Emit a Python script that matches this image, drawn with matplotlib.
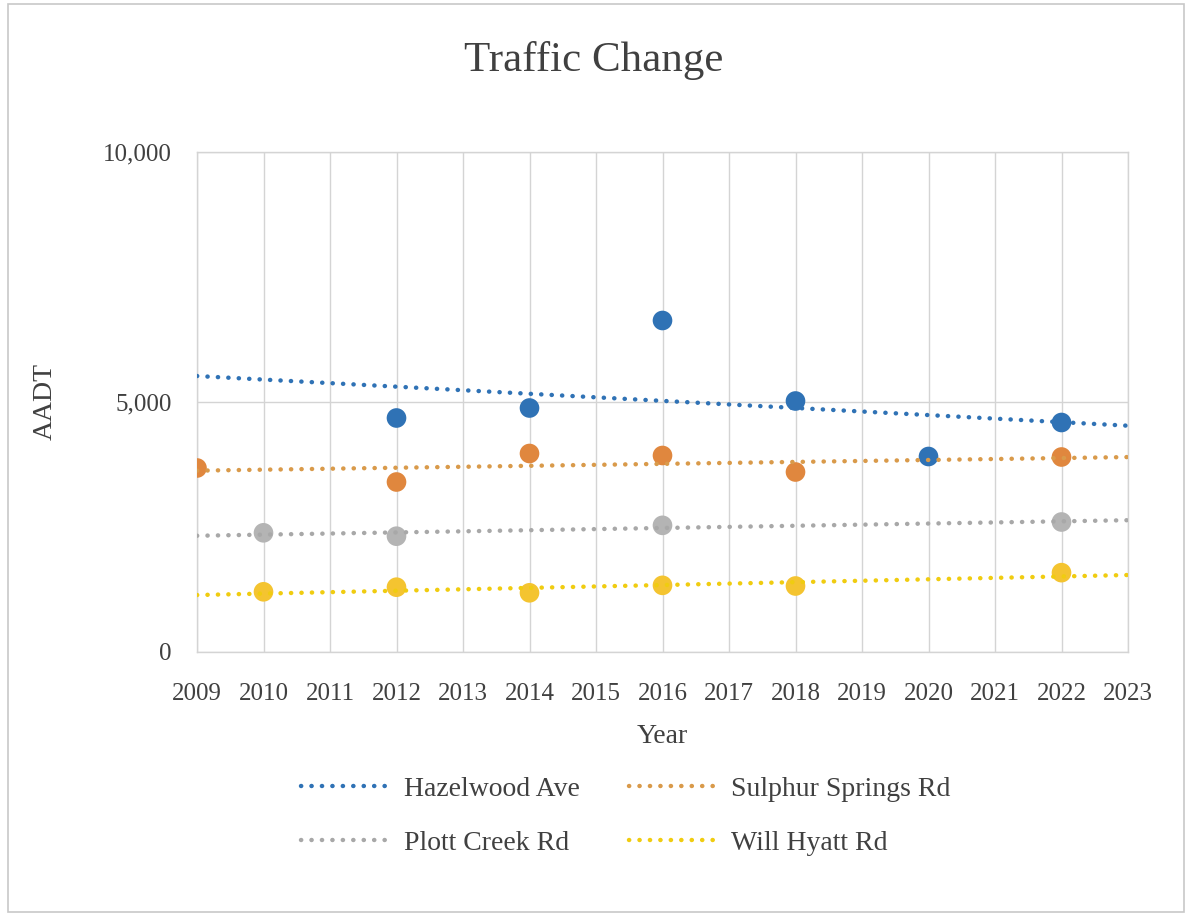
import numpy as np
import matplotlib
matplotlib.use("Agg")
import matplotlib.pyplot as plt
from matplotlib.patches import Rectangle

# Data
hazel_years = [2012, 2014, 2016, 2018, 2020, 2022]
hazel_aadt = [4680, 4880, 6630, 5020, 3910, 4590]

sulphur_years = [2009, 2012, 2014, 2016, 2018, 2022]
sulphur_aadt = [3680, 3400, 3970, 3930, 3600, 3900]

plott_years = [2010, 2012, 2016, 2022]
plott_aadt = [2384, 2316, 2533, 2600]

will_years = [2010, 2012, 2014, 2016, 2018, 2022]
will_aadt = [1204, 1296, 1184, 1333, 1320, 1587]

series_names = ["Hazelwood Ave", "Sulphur Springs Rd", "Plott Creek Rd", "Will Hyatt Rd"]
point_colors = ["#2f72b5", "#e0873e", "#b4b4b4", "#f4c430"]
trend_colors = ["#2f72b5", "#d99a4a", "#a8a8a8", "#f0cc10"]

x_ticks = list(range(2009, 2024))
y_ticks = [0, 5000, 10000]
y_tick_labels = ["0", "5,000", "10,000"]

plt.rcParams['font.family'] = ['Liberation Serif', 'DejaVu Serif']
text_color = "#404040"

fig = plt.figure(figsize=(11.88, 9.16), dpi=100)
ax = fig.add_axes([197/1188, 1-652/916, (1128-197)/1188, (652-152)/916])

data = [(hazel_years, hazel_aadt), (sulphur_years, sulphur_aadt),
        (plott_years, plott_aadt), (will_years, will_aadt)]

handles = []
xs_line = np.array([2009, 2023])
for (yrs, vals), name, pc, tc in zip(data, series_names, point_colors, trend_colors):
    ax.scatter(yrs, vals, s=200, color=pc, zorder=3, edgecolors='none')
    k, b = np.polyfit(yrs, vals, 1)
    ln, = ax.plot(xs_line, k*xs_line + b, color=tc, linewidth=3.2,
                  linestyle=(0, (0.05, 2.3)), dash_capstyle='round', zorder=4,
                  label=name)
    handles.append(ln)

ax.set_xlim(2009, 2023)
ax.set_ylim(0, 10000)
ax.set_xticks(x_ticks)
ax.set_xticklabels([str(x) for x in x_ticks])
ax.set_yticks(y_ticks)
ax.set_yticklabels(y_tick_labels)
ax.grid(True, color="#d4d4d4", linewidth=1.0, zorder=0)
ax.set_axisbelow(True)
for sp in ax.spines.values():
    sp.set_color("#d4d4d4")
    sp.set_linewidth(1.0)
ax.tick_params(axis='both', length=0, labelsize=18, colors=text_color)
ax.tick_params(axis='x', pad=22)
ax.tick_params(axis='y', pad=18)

ax.set_xlabel("Year", fontsize=20, color=text_color, labelpad=14)
ax.set_ylabel("AADT", fontsize=20, color=text_color, labelpad=33)

fig.text(0.5, 1-61/916, "Traffic Change", ha='center', va='center',
         fontsize=31, color=text_color)

# legend order: row 1 Hazelwood, Sulphur; row 2 Plott, Will
order = [0, 2, 1, 3]
leg = fig.legend(handles=[handles[i] for i in order], loc='center',
                 bbox_to_anchor=(0.527, 0.109),
                 ncol=2, frameon=False, fontsize=20, handlelength=3.2,
                 handletextpad=0.5, columnspacing=1.75, labelspacing=1.05)
for t in leg.get_texts():
    t.set_color(text_color)

fig.patches.append(Rectangle((8/1188, 4/916), 1176/1188, 908/916, transform=fig.transFigure,
                             fill=False, edgecolor="#c8c8c8", linewidth=1.2))

fig.savefig("out.png", dpi=100, facecolor="white")
